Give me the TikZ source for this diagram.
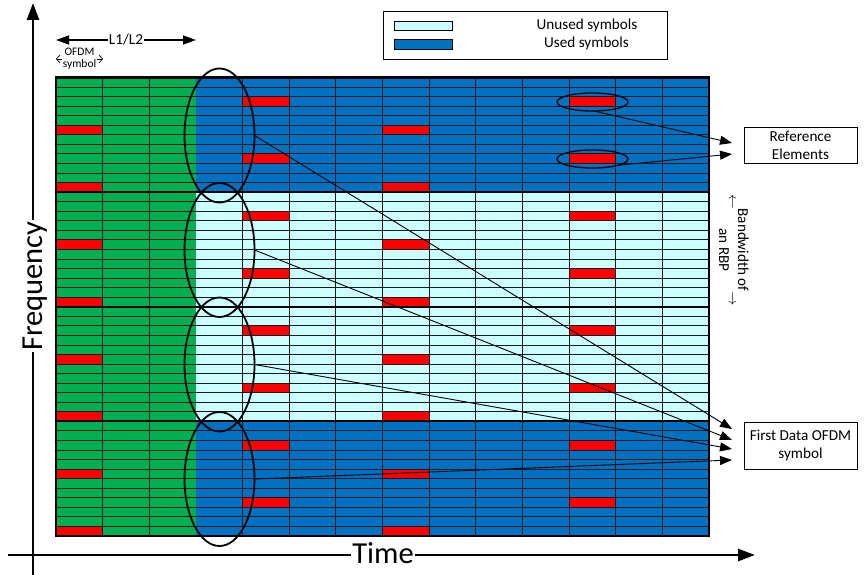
\documentclass[tikz,border=0pt]{standalone}
\usepackage{fontspec}
\setmainfont{Carlito}
\usetikzlibrary{shapes.geometric,arrows.meta}
\definecolor{cellblue}{RGB}{0,112,192}
\definecolor{cellgreen}{RGB}{0,176,80}
\definecolor{cellcyan}{RGB}{204,255,255}
\definecolor{cellred}{RGB}{255,0,0}
\begin{document}
\begin{tikzpicture}[x=1pt,y=-1pt,
  txt/.style={font=\fontsize{15.2}{18}\selectfont, align=center, inner sep=1pt},
  small/.style={font=\fontsize{11.5}{12.5}\selectfont, align=center, inner sep=0.5pt},
  big/.style={font=\fontsize{30.5}{34}\selectfont, inner sep=1.5pt},
  lbox/.style={txt, draw, line width=0.9pt, inner sep=0pt, minimum width=113pt},
  ring/.style={ellipse, draw, line width=1.8pt, inner sep=0pt, outer sep=0pt},
  link/.style={line width=0.9pt, -{Triangle[length=12pt,width=9pt]}},
  dimarrow/.style={line width=1.4pt, -{Triangle[length=13pt,width=9pt]}},
  tinyarrow/.style={line width=0.7pt, -{Straight Barb[length=3.5pt,width=8pt]}},
  axis/.style={line width=2.6pt},
  axisarrow/.style={axis, -{Triangle[length=17pt,width=12pt]}},
  gridline/.style={line width=0.9pt, black!90},
  blockline/.style={line width=1.8pt, black},
  frame/.style={line width=2.2pt, black},
  swatch/.style={draw, line width=0.8pt, inner sep=0pt, minimum width=58pt}
]
\useasboundingbox (0,0) rectangle (865,575);

% resource grid: 14 OFDM symbols x 48 subcarriers, 4 RBPs of 12 rows
\begin{scope}[shift={(56,77.5)}, x=46.643pt, y=-9.552pt]
  \fill[cellgreen] (0,0) rectangle (3,48);
  \fill[cellblue] (3,0) rectangle (14,12);
  \fill[cellcyan] (3,12) rectangle (14,36);
  \fill[cellblue] (3,36) rectangle (14,48);
  \foreach \b in {0,12,24,36}{
    \foreach \c in {0,7}{
      \foreach \r in {5,11}{ \fill[cellred] (\c,\b+\r) rectangle ++(1,1); }
    }
    \foreach \c in {4,11}{
      \foreach \r in {2,8}{ \fill[cellred] (\c,\b+\r) rectangle ++(1,1); }
    }
  }
  \foreach \r in {1,...,47} \draw[gridline] (0,\r) -- (14,\r);
  \foreach \c in {1,2,4,5,6,7,8,9,10,11,12,13} \draw[gridline] (\c,0) -- (\c,48);
  \foreach \r in {12,24,36} \draw[blockline] (0,\r) -- (14,\r);
  \draw[frame] (0,0) rectangle (14,48);
\end{scope}

% first data OFDM symbol of each RBP
\node[ring, minimum width=70pt, minimum height=134pt] (e1) at (219.5,135.5) {};
\node[ring, minimum width=70pt, minimum height=134pt] (e2) at (219.5,250) {};
\node[ring, minimum width=70pt, minimum height=134pt] (e3) at (219.5,364.5) {};
\node[ring, minimum width=70pt, minimum height=134pt] (e4) at (219.5,479) {};

% reference elements
\node[ring, line width=1.3pt, minimum width=71pt, minimum height=18pt] (r1) at (592.5,102) {};
\node[ring, line width=1.3pt, minimum width=71pt, minimum height=18pt] (r2) at (592.5,159) {};

% callout boxes
\node[lbox, minimum height=36pt] (re) at (800.5,145) {Reference\\Elements};
\node[lbox, minimum height=47pt] (fd) at (800.5,445.5) {First Data OFDM\\symbol};

\coordinate (ta) at (732,143);
\coordinate (tb) at (732,154);
\coordinate (t1) at (732,429);
\coordinate (t2) at (732,440);
\coordinate (t3) at (732,449);
\coordinate (t4) at (732,460);

\draw[link] (r1.-80) -- (ta);
\draw[link] (r2.-14) -- (tb);
\draw[link] (e1.east) -- (t1);
\draw[link] (e2.east) -- (t2);
\draw[link] (e3.east) -- (t3);
\draw[link] (e4.east) -- (t4);

% legend
\node[draw, line width=0.9pt, minimum width=284pt, minimum height=48pt, inner sep=0pt] (leg) at (525,35) {};
\node[swatch, fill=cellcyan, minimum height=9pt] (sw1) at (423,25.5) {};
\node[swatch, fill=cellblue, minimum height=10pt] (sw2) at (423,44) {};
\node[txt, anchor=base] (lu) at (587,29.3) {Unused symbols};
\node[txt, anchor=base] (ls) at (586.5,47.7) {Used symbols};

% L1/L2 span and OFDM symbol width
\node[txt, anchor=base] (l12) at (126,44.3) {L1/L2};
\coordinate (la) at (56,40);
\coordinate (lb) at (196,40);
\draw[dimarrow] (la -| l12.west) -- (la);
\draw[dimarrow] (lb -| l12.east) -- (lb);

\node[small] (ofdm) at (79.5,58.5) {OFDM\\symbol};
\coordinate (oa) at (56,59);
\coordinate (ob) at (103,59);
\draw[tinyarrow] (oa -| ofdm.west) -- (oa);
\draw[tinyarrow] (ob -| ofdm.east) -- (ob);

% RBP bandwidth
\node[txt, font=\fontsize{15.2}{19}\selectfont, rotate=-90, inner sep=0pt] (bw) at (732.5,250)
  {$\leftarrow$\begin{tabular}{@{}c@{}}Bandwidth of\\an RBP\end{tabular}$\rightarrow$};

% axes
\node[big, rotate=90] (fq) at (35,286) {Frequency};
\node[big] (tm) at (383,553) {Time};
\coordinate (yb) at (33,575);
\coordinate (yt) at (33,3);
\coordinate (xl) at (8,555);
\coordinate (xr) at (755,555);
\draw[axis] (yb) -- (yb |- fq.west);
\draw[axisarrow] (yt |- fq.east) -- (yt);
\draw[axis] (xl) -- (xl -| tm.west);
\draw[axisarrow] (xr -| tm.east) -- (xr);
\end{tikzpicture}
\end{document}
